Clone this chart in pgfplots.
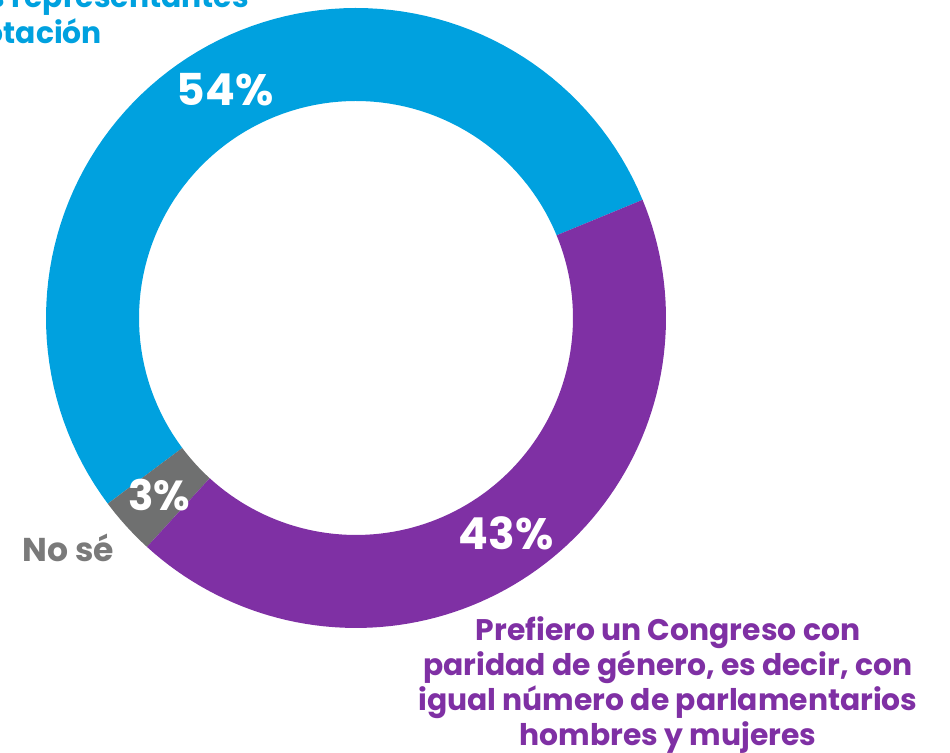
\documentclass[border=0pt]{standalone}
\usepackage{pgfplots}
\pgfplotsset{compat=1.18}
\usepackage{pgfplotstable}
\usepackage{fontspec}
\setmainfont{Poppins}
\definecolor{cblue}{HTML}{00A1DF}
\definecolor{cpurple}{HTML}{7F30A4}
\definecolor{cgray}{HTML}{6F7070}
\definecolor{tgray}{HTML}{7A7A7A}
\pgfplotstableread{
label value
Prefiero 54
NoSe 3
Paridad 43
}\datatable
\newcommand\donutwedge[3]{%
  \fill[#1] plot[domain=#2:#3, samples=90, variable=\t] ({356+310*cos(\t)},{435+310*sin(\t)})
   -- plot[domain=#3:#2, samples=90, variable=\t] ({356+217*cos(\t)},{435+217*sin(\t)}) -- cycle;}
\begin{document}
\begin{tikzpicture}
\pgfplotstablegetelem{0}{value}\of\datatable \let\va\pgfplotsretval
\pgfplotstablegetelem{1}{value}\of\datatable \let\vb\pgfplotsretval
\pgfplotstablegetelem{2}{value}\of\datatable \let\vc\pgfplotsretval
\pgfmathsetmacro\aA{22.4}
\pgfmathsetmacro\aB{\aA+3.6*\va}
\pgfmathsetmacro\aC{\aB+3.6*\vb}
\pgfmathsetmacro\aD{\aC+3.6*\vc}
\clip[use as bounding box] (0,0) rectangle (475pt,376.5pt);
\begin{axis}[x=0.5pt,y=0.5pt,xmin=0,xmax=950,ymin=0,ymax=753,
  hide axis, clip=false, disabledatascaling, anchor=origin]
\donutwedge{cblue}{\aA}{\aB}
\donutwedge{cgray}{\aB}{\aC}
\donutwedge{cpurple}{\aC}{\aD}
\node[overlay,white,font=\fontsize{22}{26}\selectfont\bfseries] at (axis cs:225,663) {54\%};
\node[overlay,white,font=\fontsize{21}{25}\selectfont\bfseries] at (axis cs:159,258) {3\%};
\node[overlay,white,font=\fontsize{22}{26}\selectfont\bfseries] at (axis cs:506,220) {43\%};
\node[overlay,tgray,font=\fontsize{16.5}{19}\selectfont\bfseries] at (axis cs:68,205) {No sé};
\node[overlay,cpurple,align=center,font=\fontsize{14.9}{17.5}\selectfont\bfseries] at (axis cs:668,68)
  {Prefiero un Congreso con\\paridad de género, es decir, con\\igual número de parlamentarios\\hombres y mujeres};
\node[overlay,cblue,anchor=east,font=\fontsize{14.9}{17.5}\selectfont\bfseries] at (axis cs:256,752) {os representantes};
\node[overlay,cblue,anchor=east,font=\fontsize{14.9}{17.5}\selectfont\bfseries] at (axis cs:109,722) {otación};
\end{axis}
\end{tikzpicture}
\end{document}
